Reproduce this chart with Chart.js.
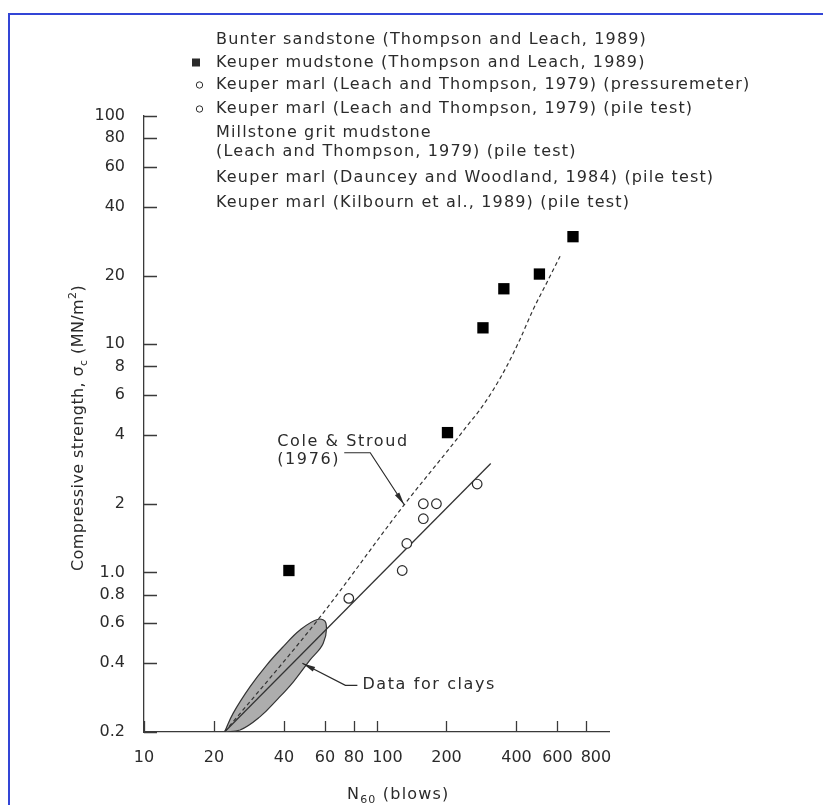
<!DOCTYPE html>
<html>
<head>
<meta charset="utf-8">
<script src="https://cdn.jsdelivr.net/npm/chart.js@4.4.0/dist/chart.umd.min.js"></script>
<style>
  html, body { margin: 0; padding: 0; background: #fff; }
  #wrap { width: 823px; height: 805px; }
</style>
</head>
<body>
<div id="wrap"><canvas id="mycanvas" width="823" height="805"></canvas></div>
<script>
// values: N60 (blows) against compressive strength (MN/m2)
var xTicks = [10, 20, 40, 60, 80, 100, 200, 400, 600, 800];
var yTicks = [0.2, 0.4, 0.6, 0.8, 1, 2, 4, 6, 8, 10, 20, 40, 60, 80, 100];

// Keuper mudstone (filled squares)
var mudstoneN = [42, 202, 287, 353, 502, 700];
var mudstoneS = [1.02, 4.1, 11.8, 17.5, 20.3, 29.6];

// Keuper marl (open circles)
var marlN = [76, 129, 135, 159, 159, 181, 271];
var marlS = [0.77, 1.02, 1.34, 1.72, 2.0, 2.0, 2.44];

// Cole & Stroud (1976) dashed curve
var coleN = [22.2, 56.2, 131.6, 217.6, 244.4, 278.7, 318, 363, 414, 472, 540, 616];
var coleS = [0.2, 0.624, 1.98, 3.75, 4.37, 5.17, 6.32, 8.0, 10.5, 14.2, 18.6, 24.3];

// solid line through the marl points
var fitN = [22.2, 310];
var fitS = [0.2, 3.0];

// outline of the shaded "data for clays" zone
var clayN = [22.2, 24.2, 28.6, 33.7, 39.7, 46.9, 56.2, 60.6, 59.0, 51.8, 43.9, 37.2, 31.5, 25.9, 22.2];
var clayS = [0.2, 0.242, 0.316, 0.393, 0.473, 0.56, 0.624, 0.6, 0.49, 0.414, 0.332, 0.276, 0.233, 0.204, 0.2];

var legendLines = [
  'Bunter sandstone (Thompson and Leach, 1989)',
  'Keuper mudstone (Thompson and Leach, 1989)',
  'Keuper marl (Leach and Thompson, 1979) (pressuremeter)',
  'Keuper marl (Leach and Thompson, 1979) (pile test)',
  'Millstone grit mudstone',
  '(Leach and Thompson, 1979) (pile test)',
  'Keuper marl (Dauncey and Woodland, 1984) (pile test)',
  'Keuper marl (Kilbourn et al., 1989) (pile test)'
];
var legendMarks = ['', 'square', 'circle', 'circle', '', '', '', ''];
var legendY = [39.5, 62.5, 85, 109, 133, 152, 178, 203];

function pts(xs, ys) {
  return xs.map(function(x, i) { return {x: x, y: ys[i]}; });
}

var ink = '#2b2b2b';
var FONT = '"DejaVu Sans", sans-serif';

function arrow(ctx, x0, y0, x1, y1) {
  var a = Math.atan2(y1 - y0, x1 - x0), len = 13, w = 2.6;
  ctx.beginPath();
  ctx.moveTo(x1, y1);
  ctx.lineTo(x1 - len * Math.cos(a) + w * Math.sin(a), y1 - len * Math.sin(a) - w * Math.cos(a));
  ctx.lineTo(x1 - len * Math.cos(a) - w * Math.sin(a), y1 - len * Math.sin(a) + w * Math.cos(a));
  ctx.closePath();
  ctx.fill();
}

var extras = {
  id: 'extras',
  beforeDraw: function(chart) {
    var ctx = chart.ctx;
    ctx.save();
    ctx.strokeStyle = '#3345d6';
    ctx.lineWidth = 2;
    ctx.beginPath();
    ctx.moveTo(9, 805);
    ctx.lineTo(9, 14);
    ctx.lineTo(823, 14);
    ctx.stroke();
    ctx.restore();
  },
  afterDraw: function(chart) {
    var ctx = chart.ctx, xs = chart.scales.x, ys = chart.scales.y, area = chart.chartArea;
    ctx.save();
    // tick marks point into the plot
    ctx.strokeStyle = '#3a3a3a';
    ctx.lineWidth = 1.3;
    ctx.beginPath();
    xTicks.forEach(function(v) {
      var px = Math.round(xs.getPixelForValue(v)) + 0.5;
      ctx.moveTo(px, area.bottom);
      ctx.lineTo(px, area.bottom - 11);
    });
    yTicks.forEach(function(v) {
      var py = Math.round(ys.getPixelForValue(v)) + 0.5;
      ctx.moveTo(area.left, py);
      ctx.lineTo(area.left + 13, py);
    });
    ctx.stroke();

    ctx.fillStyle = ink;
    ctx.strokeStyle = ink;
    ctx.textBaseline = 'middle';

    // x tick labels: centred on the tick, pushed right when they would touch
    ctx.font = '16px ' + FONT;
    ctx.textAlign = 'center';
    var prevRight = -1e9;
    xTicks.forEach(function(v) {
      var s = String(v), w = ctx.measureText(s).width;
      var c = Math.max(xs.getPixelForValue(v), prevRight + 8 + w / 2);
      ctx.fillText(s, c, area.bottom + 26);
      prevRight = c + w / 2;
    });

    ctx.textAlign = 'left';
    ctx.letterSpacing = '1.15px';

    // legend block
    legendLines.forEach(function(t, i) {
      ctx.fillText(t, 216, legendY[i]);
      if (legendMarks[i] === 'square') {
        ctx.fillRect(192, legendY[i] - 4, 8, 8);
      } else if (legendMarks[i] === 'circle') {
        ctx.lineWidth = 1;
        ctx.beginPath();
        ctx.arc(199.5, legendY[i], 3.2, 0, Math.PI * 2);
        ctx.stroke();
      }
    });

    // Cole & Stroud label, anchored on the dashed curve
    ctx.letterSpacing = '1.6px';
    var tx = xs.getPixelForValue(coleN[2]), ty = ys.getPixelForValue(coleS[2]);
    ctx.fillText('Cole & Stroud', tx - 127, ty - 63);
    ctx.fillText('(1976)', tx - 127, ty - 45);
    ctx.lineWidth = 1.2;
    ctx.beginPath();
    ctx.moveTo(tx - 60, ty - 52);
    ctx.lineTo(tx - 34, ty - 52);
    ctx.lineTo(tx, ty);
    ctx.stroke();
    arrow(ctx, tx - 34, ty - 52, tx, ty);

    // Data for clays label, anchored on the shaded zone
    var cx = xs.getPixelForValue(48), cy = ys.getPixelForValue(0.4);
    ctx.beginPath();
    ctx.moveTo(cx + 55, cy + 22);
    ctx.lineTo(cx + 43, cy + 22);
    ctx.lineTo(cx, cy);
    ctx.stroke();
    arrow(ctx, cx + 43, cy + 22, cx, cy);
    ctx.fillText('Data for clays', cx + 60, cy + 22);

    // x axis title with subscript
    ctx.letterSpacing = '1.2px';
    var bx = 347, by = 795;
    ctx.fillText('N', bx, by);
    var w = ctx.measureText('N').width;
    ctx.font = '11px ' + FONT;
    ctx.fillText('60', bx + w, by + 5);
    w += ctx.measureText('60').width;
    ctx.font = '16px ' + FONT;
    ctx.fillText(' (blows)', bx + w, by);

    // y axis title, rotated
    ctx.letterSpacing = '0.4px';
    ctx.translate(79, 428);
    ctx.rotate(-Math.PI / 2);
    var parts = [
      ['Compressive strength, \u03c3', 16, 0],
      ['c', 11, 5],
      [' (MN/m', 16, 0],
      ['2', 11, -6],
      [')', 16, 0]
    ];
    var total = 0;
    parts.forEach(function(p) { ctx.font = p[1] + 'px ' + FONT; total += ctx.measureText(p[0]).width; });
    var px0 = -total / 2;
    parts.forEach(function(p) {
      ctx.font = p[1] + 'px ' + FONT;
      ctx.fillText(p[0], px0, p[2]);
      px0 += ctx.measureText(p[0]).width;
    });
    ctx.restore();
  }
};

var ctx = document.getElementById('mycanvas');

var mycanvas = new Chart(ctx, {
  type: 'scatter',
  data: {
    datasets: [
      {
        label: 'Keuper mudstone (Thompson and Leach, 1989)',
        data: pts(mudstoneN, mudstoneS),
        pointStyle: 'rect',
        pointRadius: 8,
        backgroundColor: '#000',
        borderColor: '#000',
        borderWidth: 0,
        order: 1
      },
      {
        label: 'Keuper marl (Leach and Thompson, 1979)',
        data: pts(marlN, marlS),
        pointStyle: 'circle',
        pointRadius: 4.8,
        backgroundColor: '#fff',
        borderColor: ink,
        borderWidth: 1.2,
        order: 2
      },
      {
        label: 'Cole & Stroud (1976)',
        data: pts(coleN, coleS),
        showLine: true,
        cubicInterpolationMode: 'monotone',
        pointRadius: 0,
        borderColor: '#333',
        borderWidth: 1.2,
        borderDash: [4, 3],
        fill: false,
        order: 3
      },
      {
        label: 'fit',
        data: pts(fitN, fitS),
        showLine: true,
        pointRadius: 0,
        borderColor: '#333',
        borderWidth: 1.3,
        fill: false,
        order: 4
      },
      {
        label: 'Data for clays',
        data: pts(clayN, clayS),
        showLine: true,
        tension: 0.4,
        pointRadius: 0,
        borderColor: '#333',
        borderWidth: 1.2,
        backgroundColor: '#adadad',
        fill: 'shape',
        order: 5
      }
    ]
  },
  options: {
    responsive: false,
    animation: false,
    layout: { padding: { top: 116, right: 214, left: 0, bottom: 0 } },
    plugins: {
      legend: { display: false },
      tooltip: { enabled: false }
    },
    scales: {
      x: {
        type: 'logarithmic',
        min: 10,
        max: 1000,
        afterBuildTicks: function(scale) {
          scale.ticks = xTicks.map(function(v) { return {value: v}; });
        },
        afterFit: function(scale) { scale.height = 73; },
        grid: { display: false },
        border: { display: true, color: '#3a3a3a', width: 1.3 },
        ticks: { display: false }
      },
      y: {
        type: 'logarithmic',
        min: 0.2,
        max: 100,
        afterBuildTicks: function(scale) {
          scale.ticks = yTicks.map(function(v) { return {value: v}; });
        },
        afterFit: function(scale) { scale.width = 144; },
        grid: { display: false },
        border: { display: true, color: '#3a3a3a', width: 1.3 },
        ticks: {
          autoSkip: false,
          padding: 11,
          color: ink,
          font: { family: 'DejaVu Sans', size: 16 },
          callback: function(v) { return v === 1 ? '1.0' : String(v); }
        }
      }
    }
  },
  plugins: [extras]
});
</script>
</body>
</html>
